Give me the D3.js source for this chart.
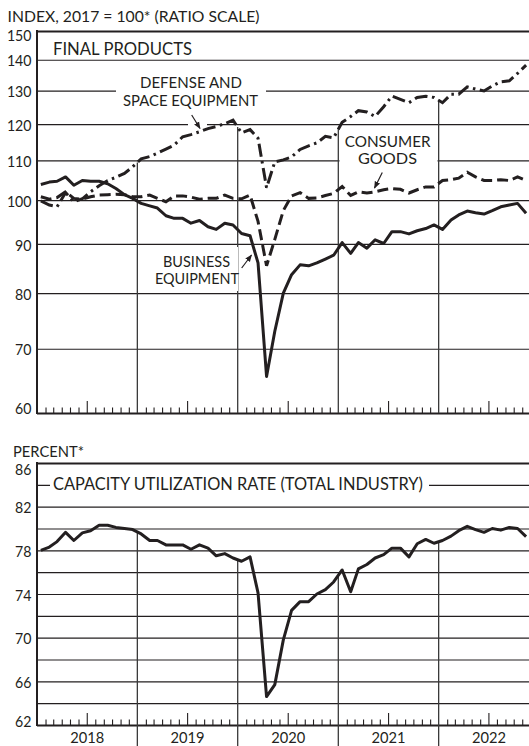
<!DOCTYPE html>
<html>
<head>
<meta charset="utf-8">
<script src="https://cdn.jsdelivr.net/npm/d3@7"></script>
<style>
  body { margin: 0; background: #fff; }
  svg { display: block; }
  text { font-family: Lato, "DejaVu Sans", sans-serif; fill: #231f20; }
</style>
</head>
<body>
<script>
// monthly points, Jan 2018 - Nov 2022 (plotted mid-month)
const months = d3.range(59).map(i => new Date(2018, i, 15));

const businessEquipment = [
  103.8, 104.4, 104.6, 105.7, 103.6, 104.8, 104.6, 104.6, 104.0, 102.8, 101.3, 100.4,
  99.2, 98.6, 98.1, 96.3, 95.7, 95.7, 94.6, 95.2, 93.8, 93.2, 94.6, 94.2,
  92.3, 91.8, 86.0, 65.5, 73.0, 80.0, 83.6, 85.6, 85.4, 86.0, 86.8, 87.6,
  90.3, 88.0, 90.3, 89.1, 90.9, 90.1, 92.7, 92.7, 92.2, 92.9, 93.4, 94.2,
  93.2, 95.3, 96.5, 97.4, 97.0, 96.7, 97.5, 98.4, 98.8, 99.2, 96.9
];
const consumerGoods = [
  100.8, 100.2, 100.6, 102.0, 100.4, 100.2, 100.8, 101.2, 101.3, 101.4, 101.3, 100.8,
  100.8, 101.2, 100.4, 99.6, 101.0, 101.0, 100.7, 100.2, 100.4, 100.4, 101.2, 100.4,
  100.3, 101.2, 95.0, 85.4, 91.0, 97.5, 101.0, 101.8, 100.4, 100.5, 101.1, 101.6,
  103.3, 101.1, 102.0, 101.7, 102.0, 102.5, 102.8, 102.6, 101.7, 102.5, 103.2, 103.2,
  104.8, 105.0, 105.4, 106.9, 105.7, 104.8, 104.8, 105.0, 104.8, 105.7, 104.8
];
const defenseSpace = [
  99.8, 98.8, 98.4, 101.8, 99.6, 100.3, 102.0, 103.5, 104.8, 105.6, 106.6, 108.3,
  110.4, 111.0, 111.9, 113.0, 114.1, 116.4, 117.0, 117.8, 118.7, 119.3, 120.1, 121.1,
  117.5, 118.4, 116.0, 103.0, 109.6, 110.1, 110.9, 112.9, 113.9, 114.7, 116.5, 116.1,
  120.5, 122.2, 123.9, 123.5, 122.2, 125.1, 128.3, 127.3, 126.3, 127.9, 128.3, 127.9,
  126.3, 128.9, 128.9, 131.2, 130.5, 129.9, 131.5, 132.8, 133.1, 135.5, 138.2
];
const capacityUtil = [
  78.0, 78.3, 78.8, 79.65, 78.9, 79.6, 79.8, 80.3, 80.3, 80.1, 80.0, 79.9,
  79.5, 78.9, 78.9, 78.5, 78.5, 78.5, 78.1, 78.5, 78.2, 77.5, 77.7, 77.3,
  77.0, 77.4, 74.1, 64.6, 65.7, 69.8, 72.5, 73.3, 73.3, 74.0, 74.4, 75.1,
  76.2, 74.2, 76.3, 76.7, 77.3, 77.6, 78.2, 78.2, 77.4, 78.6, 79.0, 78.65,
  78.9, 79.3, 79.8, 80.2, 79.9, 79.65, 80.0, 79.85, 80.1, 80.0, 79.25
];

const topGrid = [150, 140, 130, 120, 110, 100, 90, 80, 70, 60];
const botGrid = [86, 84, 82, 80, 78, 76, 74, 72, 70, 68, 66, 64, 62];
const botLabels = [86, 82, 78, 74, 70, 66, 62];
const years = [2018, 2019, 2020, 2021, 2022];

const W = 529, H = 746;
const left = 37;
const ink = "#231f20";

const x = d3.scaleTime()
  .domain([new Date(2018, 0, 1), new Date(2023, 0, 1)])
  .range([left, 539]);
const yTop = d3.scaleLog().domain([60, 150]).range([413, 31]);
const yBot = d3.scaleLinear().domain([62, 86]).range([725, 463]);

const svg = d3.select("body")
  .append("svg")
  .attr("width", W)
  .attr("height", H);

svg.append("defs")
  .append("marker")
  .attr("id", "head")
  .attr("viewBox", "0 0 10 10")
  .attr("refX", 9)
  .attr("refY", 5)
  .attr("markerWidth", 6)
  .attr("markerHeight", 6)
  .attr("orient", "auto")
  .append("path")
  .attr("d", "M0,1 L10,5 L0,9 Z")
  .attr("fill", ink);

function valueAt(series, date) {
  const i = d3.bisectLeft(months, date);
  const t = (date - months[i - 1]) / (months[i] - months[i - 1]);
  return series[i - 1] + t * (series[i] - series[i - 1]);
}

function addText(g, str, tx, ty, size, anchor, len) {
  const t = g.append("text")
    .attr("x", tx)
    .attr("y", ty)
    .attr("font-size", size)
    .attr("text-anchor", anchor || "start")
    .text(str);
  if (len) t.attr("textLength", len).attr("lengthAdjust", "spacingAndGlyphs");
  return t;
}

// horizontal grid + value labels; end labels are pushed inside the panel
function yAxis(scale, values, labels, endA, endB, dyA, dyB) {
  return g => g
    .attr("transform", `translate(${left},0)`)
    .call(d3.axisLeft(scale)
      .tickValues(values)
      .tickSize(-(W - left))
      .tickPadding(5.5)
      .tickFormat(d => labels.includes(d) ? d : ""))
    .call(g => g.select(".domain").remove())
    .call(g => g.selectAll("line")
      .attr("stroke", ink)
      .attr("stroke-width", d => (d === endA || d === endB) ? 2 : 1.2))
    .call(g => g.selectAll("text")
      .attr("font-family", "Lato, 'DejaVu Sans', sans-serif")
      .attr("font-size", 15.5)
      .attr("fill", ink)
      .attr("dy", d => d === endA ? dyA : d === endB ? dyB : "0.39em")
      .each(function (d) {
        const s = String(d);
        if (labels.includes(d)) d3.select(this).attr("textLength", s.length * 8.2).attr("lengthAdjust", "spacingAndGlyphs");
      }));
}

// month ticks, July tick longer
function monthTicks(y0) {
  return g => g
    .attr("transform", `translate(0,${y0})`)
    .call(d3.axisBottom(x)
      .tickValues(d3.timeMonth.range(new Date(2018, 1, 1), new Date(2023, 0, 1)).filter(d => d.getMonth() !== 0))
      .tickSize(-5.5)
      .tickFormat(""))
    .call(g => g.select(".domain").remove())
    .call(g => g.selectAll("line")
      .attr("stroke", ink)
      .attr("stroke-width", 1.1)
      .attr("y2", d => d.getMonth() === 6 ? -12 : -5.5));
}

const yearStarts = years.slice(1).map(yr => new Date(yr, 0, 1));

// ---------- top panel ----------
const gTop = svg.append("g");

gTop.append("g").call(yAxis(yTop, topGrid, topGrid, 150, 60, "0.64em", "0em"));

gTop.append("g").call(monthTicks(413));

gTop.selectAll(".yr-line")
  .data(yearStarts)
  .enter()
  .append("line")
  .attr("x1", d => x(d))
  .attr("x2", d => x(d))
  .attr("y1", yTop(60))
  .attr("y2", d => yTop(valueAt(defenseSpace, d)))
  .attr("stroke", "#3a3a3a")
  .attr("stroke-width", 1.3);

gTop.append("line")
  .attr("x1", left).attr("x2", left)
  .attr("y1", yTop(150) - 1).attr("y2", yTop(60) + 1)
  .attr("stroke", ink).attr("stroke-width", 2);

// white backgrounds behind the labels
const boxes = [
  [116, 72, 150, 38],
  [188, 119, 19, 10],
  [339.5, 132, 98, 36],
  [150, 247, 88, 44]
];
gTop.selectAll(".box")
  .data(boxes)
  .enter()
  .append("rect")
  .attr("x", d => d[0]).attr("y", d => d[1])
  .attr("width", d => d[2]).attr("height", d => d[3])
  .attr("fill", "#fff");

const lineTop = s => d3.line()
  .x((d, i) => x(months[i]))
  .y(d => yTop(d))(s);

gTop.append("path")
  .attr("d", lineTop(businessEquipment))
  .attr("fill", "none").attr("stroke", ink).attr("stroke-width", 3)
  .attr("stroke-linejoin", "round");

gTop.append("path")
  .attr("d", lineTop(consumerGoods))
  .attr("fill", "none").attr("stroke", ink).attr("stroke-width", 3)
  .attr("stroke-dasharray", "11,5");

gTop.append("path")
  .attr("d", lineTop(defenseSpace))
  .attr("fill", "none").attr("stroke", ink).attr("stroke-width", 3)
  .attr("stroke-dasharray", "13,4.5,2.5,4.5");

// labels
addText(svg, "INDEX, 2017 = 100* (RATIO SCALE)", 7.5, 21.5, 16, "start", 252);
addText(gTop, "FINAL PRODUCTS", 53, 55, 16.5, "start", 139);
addText(gTop, "DEFENSE AND", 191, 88, 15.5, "middle", 102);
addText(gTop, "SPACE EQUIPMENT", 190.5, 106, 15.5, "middle", 135);
addText(gTop, "CONSUMER", 387.7, 147.3, 15.5, "middle", 86);
addText(gTop, "GOODS", 387.5, 164, 15.5, "middle", 59);
addText(gTop, "BUSINESS", 196.5, 266.7, 15.5, "middle", 67);
addText(gTop, "EQUIPMENT", 197, 284.3, 15.5, "middle", 84);

const arrows = [
  [191.7, 115, 200, 128.5],
  [382.3, 172.5, 374.5, 188],
  [241.7, 268, 251.5, 255]
];
gTop.selectAll(".arrow")
  .data(arrows)
  .enter()
  .append("line")
  .attr("x1", d => d[0]).attr("y1", d => d[1])
  .attr("x2", d => d[2]).attr("y2", d => d[3])
  .attr("stroke", ink).attr("stroke-width", 1.2)
  .attr("marker-end", "url(#head)");

// ---------- bottom panel ----------
const gBot = svg.append("g");

gBot.append("g").call(yAxis(yBot, botGrid, botLabels, 86, 62, "0.77em", "0.1em"));

gBot.append("g").call(monthTicks(725));

gBot.selectAll(".yr-line")
  .data(yearStarts)
  .enter()
  .append("line")
  .attr("x1", d => x(d))
  .attr("x2", d => x(d))
  .attr("y1", H)
  .attr("y2", d => yBot(valueAt(capacityUtil, d)))
  .attr("stroke", "#3a3a3a")
  .attr("stroke-width", 1.3);

gBot.append("line")
  .attr("x1", left).attr("x2", left)
  .attr("y1", yBot(86) - 1).attr("y2", yBot(62) + 1)
  .attr("stroke", ink).attr("stroke-width", 2);

gBot.append("rect")
  .attr("x", 50).attr("y", 474)
  .attr("width", 379).attr("height", 20)
  .attr("fill", "#fff");

gBot.append("path")
  .attr("d", d3.line().x((d, i) => x(months[i])).y(d => yBot(d))(capacityUtil))
  .attr("fill", "none").attr("stroke", ink).attr("stroke-width", 3)
  .attr("stroke-linejoin", "round");

addText(svg, "PERCENT*", 13, 457, 15.5, "start", 71);
addText(gBot, "CAPACITY UTILIZATION RATE (TOTAL INDUSTRY)", 53, 490, 16.5, "start", 370);

// year labels under the lower panel
svg.append("g")
  .attr("transform", `translate(0,742.5)`)
  .call(d3.axisBottom(x)
    .tickValues(years.map(yr => new Date(yr, 6, 1)))
    .tickSize(0)
    .tickFormat(d3.timeFormat("%Y")))
  .call(g => g.select(".domain").remove())
  .call(g => g.selectAll("text")
    .attr("y", 0)
    .attr("dy", "0em")
    .attr("font-family", "Lato, 'DejaVu Sans', sans-serif")
    .attr("font-size", 14.5)
    .attr("fill", ink)
    .attr("textLength", 34)
    .attr("lengthAdjust", "spacingAndGlyphs"));
</script>
</body>
</html>
